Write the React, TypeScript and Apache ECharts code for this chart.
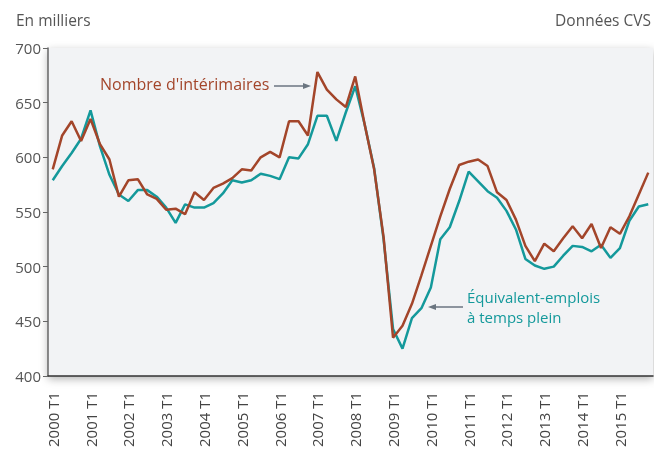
import React, { useEffect, useRef } from "react";
import * as echarts from "echarts";

const years = [2000, 2001, 2002, 2003, 2004, 2005, 2006, 2007, 2008, 2009, 2010, 2011, 2012, 2013, 2014, 2015];
const quarters = ["T1", "T2", "T3", "T4"];
const categories: string[] = [];
years.forEach((y) => quarters.forEach((q) => categories.push(`${y} ${q}`)));

const interimaires = [
  589, 620, 633, 615, 635, 612, 598, 564,
  579, 580, 566, 562, 552, 553, 548, 568,
  561, 572, 576, 581, 589, 588, 600, 605,
  600, 633, 633, 620, 678, 662, 653, 646,
  674, 630, 589, 527, 435, 446, 466, 492,
  519, 546, 571, 593, 596, 598, 592, 568,
  561, 543, 519, 505, 521, 514, 526, 537,
  526, 539, 517, 536, 530, 546, 566, 586,
];

const equivalentEmplois = [
  579, 592, 604, 617, 643, 610, 584, 566,
  560, 570, 570, 564, 554, 540, 557, 554,
  554, 558, 567, 579, 577, 579, 585, 583,
  580, 600, 599, 612, 638, 638, 615, 641,
  665, 630, 590, 525, 443, 425, 453, 462,
  481, 525, 536, 560, 587, 578, 569, 563,
  551, 534, 507, 501, 498, 500, 510, 519,
  518, 514, 520, 508, 517, 542, 555, 557,
];

const RED = "#a3452a";
const TEAL = "#14999b";
const FONT = "'Open Sans', 'Noto Sans', sans-serif";

export default function App() {
  const ref = useRef<HTMLDivElement>(null);
  useEffect(() => {
    if (!ref.current) return;
    const chart = echarts.init(ref.current, undefined, { renderer: "svg" });
    chart.setOption({
      animation: false,
      textStyle: { fontFamily: FONT },
      grid: {
        left: 48,
        right: 1,
        top: 48,
        bottom: 73,
        show: true,
        backgroundColor: "#f2f3f5",
        borderWidth: 0,
        shadowColor: "rgba(0,0,0,0.3)",
        shadowBlur: 9,
        shadowOffsetY: 3,
      },
      xAxis: {
        type: "category",
        data: categories,
        boundaryGap: true,
        axisLine: { lineStyle: { color: "#333", width: 1.5 } },
        axisTick: { interval: 3, length: 5, lineStyle: { color: "#555" } },
        axisLabel: {
          interval: 3,
          rotate: 90,
          margin: 16,
          color: "#444",
          fontSize: 15,
          fontFamily: FONT,
        },
        splitLine: { show: false },
      },
      yAxis: {
        type: "value",
        min: 400,
        max: 700,
        interval: 50,
        axisLine: { show: true, lineStyle: { color: "#666", width: 1.5 } },
        axisTick: { show: true, length: 5, lineStyle: { color: "#666" } },
        axisLabel: { color: "#555", fontSize: 15, margin: 7, fontFamily: FONT },
        splitLine: { show: false },
      },
      series: [
        {
          name: "Équivalent-emplois à temps plein",
          type: "line",
          data: equivalentEmplois,
          symbol: "none",
          lineStyle: { color: TEAL, width: 2.5 },
          z: 2,
        },
        {
          name: "Nombre d'intérimaires",
          type: "line",
          data: interimaires,
          symbol: "none",
          lineStyle: { color: RED, width: 2.5 },
          z: 3,
        },
      ],
      graphic: [
        {
          type: "text",
          left: 16,
          top: 12,
          style: { text: "En milliers", fill: "#555", font: `15.5px ${FONT}` },
        },
        {
          type: "text",
          right: 3,
          top: 12,
          style: { text: "Données CVS", fill: "#555", font: `15.5px ${FONT}` },
        },
        {
          type: "text",
          x: 100,
          y: 84,
          style: {
            text: "Nombre d'intérimaires",
            fill: RED,
            font: `16px ${FONT}`,
            verticalAlign: "middle",
          },
        },
        {
          type: "line",
          shape: { x1: 274, y1: 86, x2: 305, y2: 86 },
          style: { stroke: "#6b7580", lineWidth: 1.5 },
        },
        {
          type: "polygon",
          shape: { points: [[311, 86], [303, 83], [303, 89]] },
          style: { fill: "#6b7580" },
        },
        {
          type: "text",
          x: 467,
          y: 297,
          style: {
            text: "Équivalent-emplois",
            fill: TEAL,
            font: `15px ${FONT}`,
            verticalAlign: "middle",
          },
        },
        {
          type: "text",
          x: 467,
          y: 317,
          style: {
            text: "à temps plein",
            fill: TEAL,
            font: `15px ${FONT}`,
            verticalAlign: "middle",
          },
        },
        {
          type: "line",
          shape: { x1: 463, y1: 307, x2: 434, y2: 307 },
          style: { stroke: "#6b7580", lineWidth: 1.5 },
        },
        {
          type: "polygon",
          shape: { points: [[428, 307], [436, 304], [436, 310]] },
          style: { fill: "#6b7580" },
        },
      ],
    });
    return () => chart.dispose();
  }, []);
  return (
    <div
      ref={ref}
      style={{ position: "fixed", left: 0, top: 0, width: 654, height: 450 }}
    />
  );
}
